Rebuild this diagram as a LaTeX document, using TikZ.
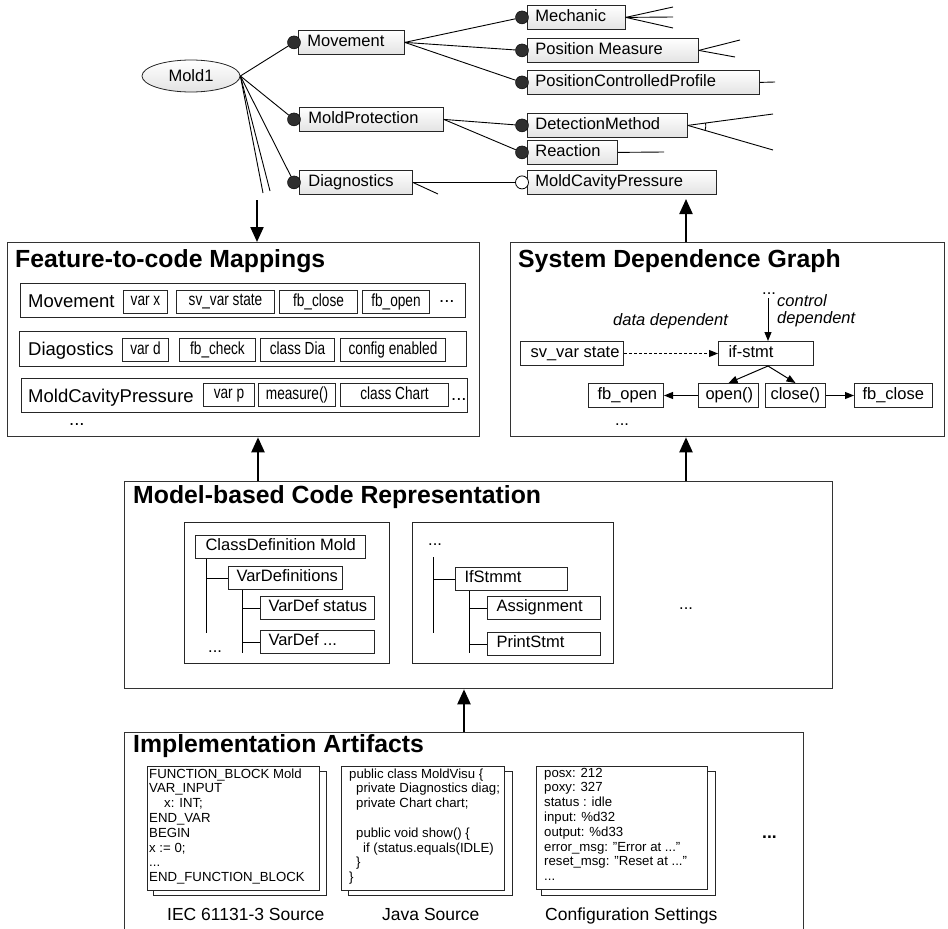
\documentclass[tikz,border=0pt]{standalone}
\usepackage{fontspec}
\setmainfont{Liberation Sans}
\newfontfamily\narrowsans[FakeStretch=0.78]{Liberation Sans}
\usetikzlibrary{arrows.meta,shapes.geometric}

\newcommand\treefont{\fontsize{16.5}{19}\selectfont}
\newcommand\ttlfont{\fontsize{24.8}{28}\selectfont\bfseries}
\newcommand\rowlblfont{\fontsize{18.5}{21}\selectfont}
\newcommand\cellfont{\narrowsans\fontsize{17.5}{20}\selectfont}
\newcommand\srcfont{\fontsize{13.2}{14.8}\selectfont}
\newcommand\lblfont{\fontsize{17.5}{20}\selectfont}
\newcommand\vs{\rule[-4pt]{0pt}{15pt}}
% box text: total width, left padding, text
\newcommand\padl[3]{\hbox to #1pt{\hskip #2pt\relax\vs #3\hfil}}
% source listing: first baseline is the box baseline
\newcommand\srclines[1]{\vtop{\srcfont\baselineskip=14.8pt\relax #1}}

\begin{document}
\begin{tikzpicture}[x=1pt,y=1pt,
  feat/.style={draw=black!85, line width=0.8pt, top color=white, bottom color=black!11, inner sep=0pt, minimum height=24pt, anchor=north west, font=\treefont},
  mand/.style={circle, draw=black, fill=black!82, inner sep=0pt, minimum size=13pt},
  opt/.style={circle, draw=black, fill=white, line width=0.8pt, inner sep=0pt, minimum size=13pt},
  tline/.style={line width=0.9pt},
  bigbox/.style={draw=black!80, line width=1.3pt, inner sep=0pt, anchor=north west},
  ttl/.style={font=\ttlfont, anchor=base west, inner sep=0pt},
  rowbox/.style={draw=black!85, line width=1.1pt, inner sep=0pt, anchor=north west},
  rowlbl/.style={font=\rowlblfont, anchor=base west, inner sep=0pt},
  cell/.style={draw=black!85, line width=1pt, inner sep=0pt, minimum height=23pt, anchor=north west, font=\cellfont, execute at begin node=\vs},
  sbox/.style={draw=black!85, line width=1pt, inner sep=0pt, minimum height=24pt, anchor=north west, font=\treefont},
  mbox/.style={draw=black!85, line width=1pt, inner sep=0pt, minimum height=23pt, anchor=north west, font=\treefont},
  panel/.style={draw=black!85, line width=1.1pt, inner sep=0pt, anchor=north west},
  plain/.style={font=\treefont, inner sep=0pt, anchor=base west},
  bigarrow/.style={line width=2.2pt, -{Triangle[length=15pt,width=13pt]}},
  smallarrow/.style={line width=1pt, -{Triangle[length=9pt,width=7pt]}},
  doc/.style={draw=black!85, line width=1pt, fill=white, inner sep=0pt, anchor=north west},
  src/.style={inner sep=0pt, anchor=base west},
  lbl/.style={font=\lblfont, inner sep=0pt, anchor=base west},
]
\useasboundingbox (0,0) rectangle (948,-929);

% ---------------- feature model ----------------
\node[ellipse, draw=black!85, line width=0.8pt, top color=white, bottom color=black!11,
      minimum width=98pt, minimum height=32pt, inner sep=0pt, font=\treefont] (mold) at (191,-76) {Mold1};

\node[feat] (mov)   at (298,-30)  {\padl{106}{9}{Movement}};
\node[feat] (mprot) at (299,-107) {\padl{144}{9}{MoldProtection}};
\node[feat] (diag)  at (299,-170) {\padl{113}{9}{Diagnostics}};
\node[feat] (mech)  at (527,-5)   {\padl{98}{8}{Mechanic}};
\node[feat] (pmeas) at (527,-38)  {\padl{171}{8}{Position Measure}};
\node[feat] (pcp)   at (527,-70)  {\padl{232}{8}{PositionControlledProfile}};
\node[feat] (detm)  at (527,-113) {\padl{160}{8}{DetectionMethod}};
\node[feat] (react) at (527,-140) {\padl{90}{8}{Reaction}};
\node[feat] (mcp)   at (527,-170) {\padl{189}{8}{MoldCavityPressure}};

\node[mand] (movd)   at ([xshift=-4pt]mov.west)   {};
\node[mand] (mprotd) at ([xshift=-5pt]mprot.west) {};
\node[mand] (diagd)  at ([xshift=-5pt]diag.west)  {};
\node[mand] (mechd)  at ([xshift=-5pt]mech.west)  {};
\node[mand] (pmeasd) at ([xshift=-5pt]pmeas.west) {};
\node[mand] (pcpd)   at ([xshift=-5pt]pcp.west)   {};
\node[mand] (detmd)  at ([xshift=-5pt]detm.west)  {};
\node[mand] (reactd) at ([xshift=-5pt]react.west) {};
\node[opt]  (mcpd)   at ([xshift=-5pt]mcp.west)   {};

\coordinate (moldA) at (263,-193);
\coordinate (moldB) at (270,-191);
\coordinate (diagX) at (438,-194);
\coordinate (mechA) at (673,-7);
\coordinate (mechB) at (673,-17);
\coordinate (mechC) at (673,-28);
\coordinate (pmA) at (740,-40);
\coordinate (pmB) at (735,-57);
\coordinate (pcpA) at (775,-82);
\coordinate (dmA) at (773,-114);
\coordinate (dmB) at (773,-150);
\coordinate (reA) at (664,-152);

\draw[tline] (mold.east) -- (movd);
\draw[tline] (mold.east) -- (mprotd);
\draw[tline] (mold.east) -- (diagd);
\draw[tline] (mold.east) -- (moldA);
\draw[tline] (mold.east) -- (moldB);
\draw[tline] (mov.east) -- (mechd);
\draw[tline] (mov.east) -- (pmeasd);
\draw[tline] (mov.east) -- (pcpd);
\draw[tline] (mprot.east) -- (detmd);
\draw[tline] (mprot.east) -- (reactd);
\draw[tline] (diag.east) -- (mcpd);
\draw[tline] (diag.east) -- (diagX);
\draw[tline] (mech.east) -- (mechA);
\draw[tline] (mech.east) -- (mechB);
\draw[tline] (mech.east) -- (mechC);
\draw[tline] (pmeas.east) -- (pmA);
\draw[tline] (pmeas.east) -- (pmB);
\draw[tline] (pcp.east) -- (pcpA);
\draw[tline] (detm.east) -- (dmA);
\draw[tline] (detm.east) -- (dmB);
\draw[tline] ([shift={(7.3:18pt)}]detm.east) arc[start angle=7.3, end angle=-16.2, radius=18pt];
\draw[tline] (react.east) -- (reA);

% ---------------- feature-to-code mappings ----------------
\node[bigbox, minimum width=472pt, minimum height=194pt] (fcm) at (7,-242) {};
\node[ttl] (fcmt) at (15,-267) {Feature-to-code Mappings};

\node[rowbox, minimum width=445pt, minimum height=34pt] (r1) at (20,-283) {};
\node[rowlbl] (r1l) at (28,-307) {Movement};
\node[cell, minimum width=44pt] (r1a) at (123,-290) {var x};
\node[cell, minimum width=98pt] (r1b) at (176,-290) {sv\_var state};
\node[cell, minimum width=78pt] (r1c) at (279,-290) {fb\_close};
\node[cell, minimum width=67pt] (r1d) at (362,-290) {fb\_open};
\node[rowlbl] (r1e) at (439,-302) {...};

\node[rowbox, minimum width=447pt, minimum height=35pt] (r2) at (19,-331) {};
\node[rowlbl] (r2l) at (28,-355) {Diagostics};
\node[cell, minimum width=46pt] (r2a) at (122,-338) {var d};
\node[cell, minimum width=76pt] (r2b) at (179,-338) {fb\_check};
\node[cell, minimum width=74pt] (r2c) at (260,-338) {class Dia};
\node[cell, minimum width=105pt] (r2d) at (340,-338) {config enabled};

\node[rowbox, minimum width=446pt, minimum height=34pt] (r3) at (21,-378) {};
\node[rowlbl] (r3l) at (28,-402) {MoldCavityPressure};
\node[cell, minimum width=51pt] (r3a) at (203,-383) {var p};
\node[cell, minimum width=77pt] (r3b) at (258,-383) {measure()};
\node[cell, minimum width=108pt] (r3c) at (340,-383) {class Chart};
\node[rowlbl] (r3e) at (451,-400) {...};
\node[rowlbl] (r4) at (69,-425) {...};

% ---------------- system dependence graph ----------------
\node[bigbox, minimum width=434pt, minimum height=194pt] (sdg) at (510,-242) {};
\node[ttl] (sdgt) at (518,-267) {System Dependence Graph};

\node[plain] (sdgdots) at (762,-294) {...};
\node[plain, font=\treefont\itshape] (ctl1) at (777,-306) {control};
\node[plain, font=\treefont\itshape] (ctl2) at (777,-323) {dependent};
\node[plain, font=\treefont\itshape] (ddep) at (613,-325) {data dependent};

\node[sbox] (sv)  at (520,-341) {\padl{103}{10}{sv\_var state}};
\node[sbox] (ifs) at (718,-341) {\padl{95}{10}{if-stmt}};
\node[sbox] (fbo) at (588,-383) {\padl{75}{9}{fb\_open}};
\node[sbox] (opn) at (698,-383) {\padl{60}{7}{open()}};
\node[sbox] (cls) at (765,-383) {\padl{60}{5}{close()}};
\node[sbox] (fbc) at (854,-383) {\padl{78}{8}{fb\_close}};
\node[plain] (sdgdots2) at (615,-425) {...};

\coordinate (ctlsrc) at (768,-298);
\draw[smallarrow] (ctlsrc) -- (ctlsrc |- ifs.north);
\draw[smallarrow, dash pattern=on 3pt off 2pt] (sv.east) -- (ifs.west);
\draw[smallarrow] ([xshift=2pt]ifs.south) -- (opn.north);
\draw[smallarrow] ([xshift=2pt]ifs.south) -- (cls.north);
\draw[smallarrow] (opn.west) -- (fbo.east);
\draw[smallarrow] (cls.east) -- (fbc.west);

% ---------------- model-based code representation ----------------
\node[bigbox, minimum width=708pt, minimum height=207pt] (mbr) at (124,-481) {};
\node[ttl] (mbrt) at (133,-503) {Model-based Code Representation};

\node[panel, minimum width=205pt, minimum height=141pt] (lp) at (184,-522) {};
\node[mbox] (cdm)  at (195,-535) {\padl{170}{10}{ClassDefinition Mold}};
\node[mbox] (vdfs) at (228,-566) {\padl{114}{8}{VarDefinitions}};
\node[mbox] (vds)  at (260,-596) {\padl{114}{8}{VarDef status}};
\node[mbox] (vdd)  at (260,-630) {\padl{114}{8}{VarDef ...}};
\node[plain] (lpdots) at (208,-652) {...};
\coordinate (lpv1) at (206,-633);
\coordinate (lpv2) at (242,-653);
\draw[tline] (lpv1 |- cdm.south) -- (lpv1);
\draw[tline] (lpv1 |- vdfs.west) -- (vdfs.west);
\draw[tline] (lpv2 |- vdfs.south) -- (lpv2);
\draw[tline] (lpv2 |- vds.west) -- (vds.west);
\draw[tline] (lpv2 |- vdd.west) -- (vdd.west);

\node[panel, minimum width=201pt, minimum height=141pt] (rp) at (412,-522) {};
\node[plain] (rpdots) at (428,-545) {...};
\node[mbox] (ifm) at (455,-567) {\padl{112}{9}{IfStmmt}};
\node[mbox] (asg) at (487,-596) {\padl{113}{9}{Assignment}};
\node[mbox] (prs) at (487,-632) {\padl{113}{9}{PrintStmt}};
\coordinate (rpv0) at (433,-557);
\coordinate (rpv1) at (433,-633);
\coordinate (rpv2) at (469,-653);
\draw[tline] (rpv0) -- (rpv1);
\draw[tline] (rpv0 |- ifm.west) -- (ifm.west);
\draw[tline] (rpv2 |- ifm.south) -- (rpv2);
\draw[tline] (rpv2 |- asg.west) -- (asg.west);
\draw[tline] (rpv2 |- prs.west) -- (prs.west);
\node[plain] (mbrdots) at (679,-609) {...};

% ---------------- implementation artifacts ----------------
\node[bigbox, minimum width=679pt, minimum height=215pt] (impl) at (124,-732) {};
\node[ttl] (implt) at (133,-752) {Implementation Artifacts};

\node[doc, minimum width=173pt, minimum height=124pt] (d1b) at (153,-771) {};
\node[doc, minimum width=172pt, minimum height=124pt] (d1)  at (147,-766) {};
\node[doc, minimum width=164pt, minimum height=124pt] (d2b) at (348,-771) {};
\node[doc, minimum width=163pt, minimum height=124pt] (d2)  at (341,-766) {};
\node[doc, minimum width=174pt, minimum height=124pt] (d3b) at (541,-771) {};
\node[doc, minimum width=171pt, minimum height=123pt] (d3)  at (536,-766) {};

\node[src] (s1) at (149,-778) {\srclines{%
  \hbox{FUNCTION\_BLOCK Mold}
  \hbox{VAR\_INPUT}
  \hbox{\hspace*{15pt}x: INT;}
  \hbox{END\_VAR}
  \hbox{BEGIN}
  \hbox{x := 0;}
  \hbox{...}
  \hbox{END\_FUNCTION\_BLOCK}}};
\node[src] (s2) at (349,-778) {\srclines{%
  \hbox{public class MoldVisu \{}
  \hbox{\hspace*{7pt}private Diagnostics diag;}
  \hbox{\hspace*{7pt}private Chart chart;}
  \hbox{}
  \hbox{\hspace*{7pt}public void show() \{}
  \hbox{\hspace*{14pt}if (status.equals(IDLE)}
  \hbox{\hspace*{7pt}\}}
  \hbox{\}}}};
\node[src] (s3) at (544,-777) {\srclines{%
  \hbox{posx: 212}
  \hbox{poxy: 327}
  \hbox{status : idle}
  \hbox{input: \%d32}
  \hbox{output: \%d33}
  \hbox{error\_msg: "Error at ..."}
  \hbox{reset\_msg: "Reset at ..."}
  \hbox{...}}};

\node[lbl] (l1) at (167,-920) {IEC 61131-3 Source};
\node[lbl] (l2) at (382,-920) {Java Source};
\node[lbl] (l3) at (545,-920) {Configuration Settings};
\node[lbl, font=\lblfont\bfseries] (impldots) at (762,-838) {...};

% ---------------- layer arrows ----------------
\coordinate (treeend) at (257,-200);
\draw[bigarrow] (treeend) -- (treeend |- fcm.north);
\coordinate (mcptip) at (686,-199);
\draw[bigarrow] (mcptip |- sdg.north) -- (mcptip);
\coordinate (upL) at (258,0);
\draw[bigarrow] (upL |- mbr.north) -- (upL |- fcm.south);
\coordinate (upR) at (686,0);
\draw[bigarrow] (upR |- mbr.north) -- (upR |- sdg.south);
\coordinate (upM) at (464,0);
\draw[bigarrow] (upM |- impl.north) -- (upM |- mbr.south);
\end{tikzpicture}
\end{document}
